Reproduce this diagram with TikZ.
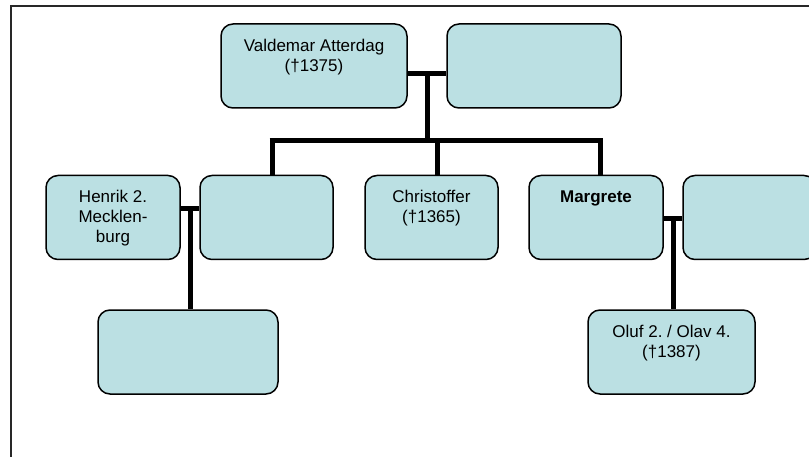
\documentclass[tikz,border=0pt]{standalone}
\usepackage{fontspec}
\setmainfont{Liberation Sans}
\usepackage{tikz}
\usepackage{xcolor}
\usetikzlibrary{calc}
\definecolor{famblue}{RGB}{187,224,227}
\definecolor{framegray}{RGB}{40,40,40}
\frenchspacing

\begin{document}
\begin{tikzpicture}[x=1pt, y=-1pt,
    person/.style={draw=black, line width=1.5pt, fill=famblue, rounded corners=12pt,
      minimum height=84pt, inner sep=0pt},
    persontext/.style={anchor=north, inner sep=0pt, align=center,
      font=\fontsize{17}{20}\selectfont},
    tie/.style={line width=5pt}]
  \useasboundingbox (0,0) rectangle (809,457);
  \draw[framegray, line width=2pt] (11,6) rectangle (830,480);

  % boxes
  \node[person, minimum width=186pt] (valdemar) at (314,66) {};
  \node[person, minimum width=174pt] (vspouse) at (534,66) {};
  \node[person, minimum width=134pt] (henrik) at (113,217.5) {};
  \node[person, minimum width=133pt] (hspouse) at (266.5,217.5) {};
  \node[person, minimum width=133pt] (christoffer) at (431.5,217.5) {};
  \node[person, minimum width=134pt] (margrete) at (596,217.5) {};
  \node[person, minimum width=133pt] (mspouse) at (749.5,217.5) {};
  \node[person, minimum width=180pt] (hchild) at (188,352) {};
  \node[person, minimum width=167pt] (oluf) at (671.5,352) {};

  % names
  \node[persontext] (valdemar-t) at ([yshift=-15.5pt]valdemar.north) {Valdemar Atterdag\\(†1375)};
  \node[persontext] (henrik-t) at ([yshift=-15.5pt]henrik.north) {Henrik 2.\\Mecklen-\\burg};
  \node[persontext] (christoffer-t) at ([yshift=-15.5pt]christoffer.north) {Christoffer\\(†1365)};
  \node[persontext, font=\fontsize{17}{20}\selectfont\bfseries] (margrete-t) at ([yshift=-15.5pt]margrete.north) {Margrete};
  \node[persontext] (oluf-t) at ([yshift=-15.5pt]oluf.north) {Oluf 2. / Olav 4.\\(†1387)};

  % family lines
  \coordinate (vm) at (427,74);
  \coordinate (vbar) at (427,141);
  \coordinate (bl) at (272,141);
  \coordinate (bc) at (437,141);
  \coordinate (br) at (600,141);
  \coordinate (hm) at (190,209);
  \coordinate (mm) at (673,219);
  \draw[tie] (valdemar.east |- vm) -- (vspouse.west |- vm);
  \draw[tie] (vm) -- (vbar);
  \draw[tie] ([xshift=-2.5pt]bl) -- ([xshift=2.5pt]br);
  \draw[tie] (bl) -- (bl |- hspouse.north);
  \draw[tie] (bc) -- (bc |- christoffer.north);
  \draw[tie] (br) -- (br |- margrete.north);
  \draw[tie] (henrik.east |- hm) -- (hspouse.west |- hm);
  \draw[tie] (hm) -- (hm |- hchild.north);
  \draw[tie] (margrete.east |- mm) -- (mspouse.west |- mm);
  \draw[tie] (mm) -- (mm |- oluf.north);
\end{tikzpicture}
\end{document}
